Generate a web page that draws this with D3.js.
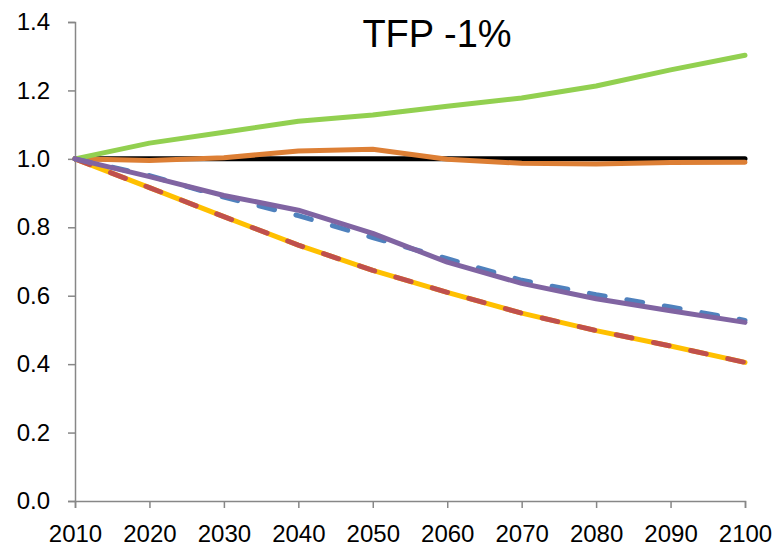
<!DOCTYPE html>
<html>
<head>
<meta charset="utf-8">
<script src="https://cdn.jsdelivr.net/npm/d3@7"></script>
<style>
  body { margin: 0; background: #fff; }
  svg text { font-family: "Liberation Sans", Arial, sans-serif; fill: #000; }
</style>
</head>
<body>
<svg id="chart"></svg>
<script>
const years = [2010, 2020, 2030, 2040, 2050, 2060, 2070, 2080, 2090, 2100];
const yTicks = [0, 0.2, 0.4, 0.6, 0.8, 1.0, 1.2, 1.4];

const blackVals  = [1.0, 1.0, 1.0, 1.0, 1.0, 1.0, 1.0, 1.0, 1.0, 1.0];
const greenVals  = [1.0, 1.046, 1.078, 1.11, 1.128, 1.154, 1.178, 1.213, 1.26, 1.303];
const orangeVals = [1.0, 0.995, 1.003, 1.023, 1.028, 0.999, 0.987, 0.985, 0.989, 0.99];
const yellowVals = [1.0, 0.916, 0.831, 0.748, 0.674, 0.61, 0.549, 0.498, 0.453, 0.405];
const redVals    = [1.0, 0.916, 0.831, 0.748, 0.674, 0.61, 0.549, 0.498, 0.453, 0.405];
const blueVals   = [1.0, 0.951, 0.888, 0.834, 0.77, 0.708, 0.645, 0.603, 0.567, 0.528];
const purpleVals = [1.0, 0.948, 0.893, 0.85, 0.782, 0.698, 0.636, 0.591, 0.556, 0.522];

// drawing order matters: later series sit on top
const series = [
    { values: blackVals,  color: "#000000", dash: null },
    { values: orangeVals, color: "#DD7F35", dash: null },
    { values: greenVals,  color: "#92D050", dash: null },
    { values: yellowVals, color: "#FFC000", dash: null },
    { values: redVals,    color: "#C0504D", dash: "16,22" },
    { values: blueVals,   color: "#4F81BD", dash: "16,22" },
    { values: purpleVals, color: "#8064A2", dash: null },
];

const width = 774, height = 548;
const margin = { top: 22, right: 29, bottom: 47, left: 75 };

const svg = d3.select("#chart").attr("width", width).attr("height", height);

const x = d3.scaleLinear()
    .domain([2010, 2100])
    .range([margin.left, width - margin.right]);

const y = d3.scaleLinear()
    .domain([0, 1.4])
    .range([height - margin.bottom, margin.top]);

// axes
const xAxis = svg.append("g")
    .attr("transform", `translate(0,${height - margin.bottom})`)
    .call(d3.axisBottom(x).tickValues(years).tickFormat(d3.format("d")).tickSize(7).tickPadding(17));

const yAxis = svg.append("g")
    .attr("transform", `translate(${margin.left},0)`)
    .call(d3.axisLeft(y).tickValues(yTicks).tickFormat(d3.format(".1f")).tickSize(7).tickPadding(18));

[xAxis, yAxis].forEach(g => {
    g.select(".domain").attr("stroke", "#878787").attr("stroke-width", 1.5);
    g.selectAll(".tick line").attr("stroke", "#878787").attr("stroke-width", 1.5);
    g.selectAll(".tick text").attr("font-size", 24).attr("fill", "#000")
        .attr("font-family", "Liberation Sans, Arial, sans-serif");
});

const line = d3.line()
    .x((d, i) => x(years[i]))
    .y(d => y(d));

series.forEach(s => {
    const p = svg.append("path")
        .datum(s.values)
        .attr("fill", "none")
        .attr("stroke", s.color)
        .attr("stroke-width", 5)
        .attr("stroke-linejoin", "round")
        .attr("stroke-linecap", "round")
        .attr("d", line);
    if (s.dash) p.attr("stroke-dasharray", s.dash);
});

svg.append("text")
    .attr("x", 437)
    .attr("y", 47)
    .attr("text-anchor", "middle")
    .attr("font-size", 38)
    .text("TFP -1%");
</script>
</body>
</html>
